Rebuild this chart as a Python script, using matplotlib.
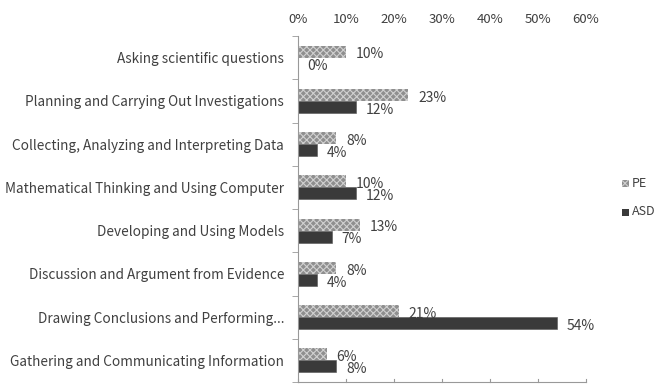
import matplotlib
matplotlib.use("Agg")
import matplotlib.pyplot as plt
import numpy as np

plt.rcParams['font.family'] = ['Noto Sans CJK KR', 'DejaVu Sans']
plt.rcParams['hatch.linewidth'] = 0.8

categories = [
    "Asking scientific questions",
    "Planning and Carrying Out Investigations",
    "Collecting, Analyzing and Interpreting Data",
    "Mathematical Thinking and Using Computer",
    "Developing and Using Models",
    "Discussion and Argument from Evidence",
    "Drawing Conclusions and Performing...",
    "Gathering and Communicating Information",
]
pe = [10, 23, 8, 10, 13, 8, 21, 6]
asd = [0, 12, 4, 12, 7, 4, 54, 8]
ticks = [0, 10, 20, 30, 40, 50, 60]

W, H = 657, 385
fig = plt.figure(figsize=(W / 100, H / 100), dpi=100)
ax = fig.add_axes([298 / W, 1 - 382 / H, (586 - 298) / W, (382 - 36) / H])

n = len(categories)
y = np.arange(n)
bw = 0.28
txt = '#404040'
pe_col = '#8f8f8f'
asd_col = '#3a3a3a'

ax.barh(y - bw / 2, pe, height=bw, color=pe_col, edgecolor='#d0d0d0',
        hatch='xxxxx', linewidth=0)
ax.barh(y + bw / 2, asd, height=bw, color=asd_col, edgecolor='#555555', linewidth=0.4)

ax.set_ylim(n - 0.5, -0.5)
ax.set_xlim(0, 60)
for i in range(n):
    ax.annotate(f"{pe[i]}%", (pe[i], y[i] - bw / 2), xytext=(7, -2),
                textcoords='offset points', ha='left', va='center',
                fontsize=10, color=txt)
    ax.annotate(f"{asd[i]}%", (asd[i], y[i] + bw / 2), xytext=(7, -2),
                textcoords='offset points', ha='left', va='center',
                fontsize=10, color=txt)

ax.xaxis.tick_top()
ax.set_xticks(ticks)
ax.set_xticklabels([f"{t}%" for t in ticks], fontsize=9.5, color=txt)
ax.tick_params(axis='x', which='both', length=0, pad=7)
ax.set_yticks(y)
ax.set_yticklabels(categories, fontsize=9.8, color=txt)
ax.tick_params(axis='y', which='major', length=0, pad=10)
ax.set_yticks(np.arange(-0.5, n, 1), minor=True)
ax.tick_params(axis='y', which='minor', length=4, color='#999999', direction='out')

for s in ['top', 'right']:
    ax.spines[s].set_visible(False)
ax.spines['left'].set_color('#999999')
ax.spines['bottom'].set_color('#999999')
ax.spines['left'].set_linewidth(0.8)
ax.spines['bottom'].set_linewidth(0.8)

# bottom tick marks (no labels)
for t in ticks:
    ax.plot([t, t], [n - 0.5, n - 0.5 - 0.08], color='#999999', lw=0.8, clip_on=False)

# legend
fig.patches.append(plt.Rectangle((622 / W, 1 - 187 / H), 7 / W, 7 / H,
                   transform=fig.transFigure, facecolor=pe_col, edgecolor='#d0d0d0',
                   hatch='xxxx', linewidth=0, figure=fig))
fig.patches.append(plt.Rectangle((622 / W, 1 - 216 / H), 7 / W, 7 / H,
                   transform=fig.transFigure, facecolor=asd_col, edgecolor=asd_col,
                   linewidth=0, figure=fig))
fig.text(632 / W, 1 - 183 / H, "PE", fontsize=9, color=txt, va='center', ha='left')
fig.text(632 / W, 1 - 212 / H, "ASD", fontsize=9, color=txt, va='center', ha='left')

fig.savefig("out.png", dpi=100)
